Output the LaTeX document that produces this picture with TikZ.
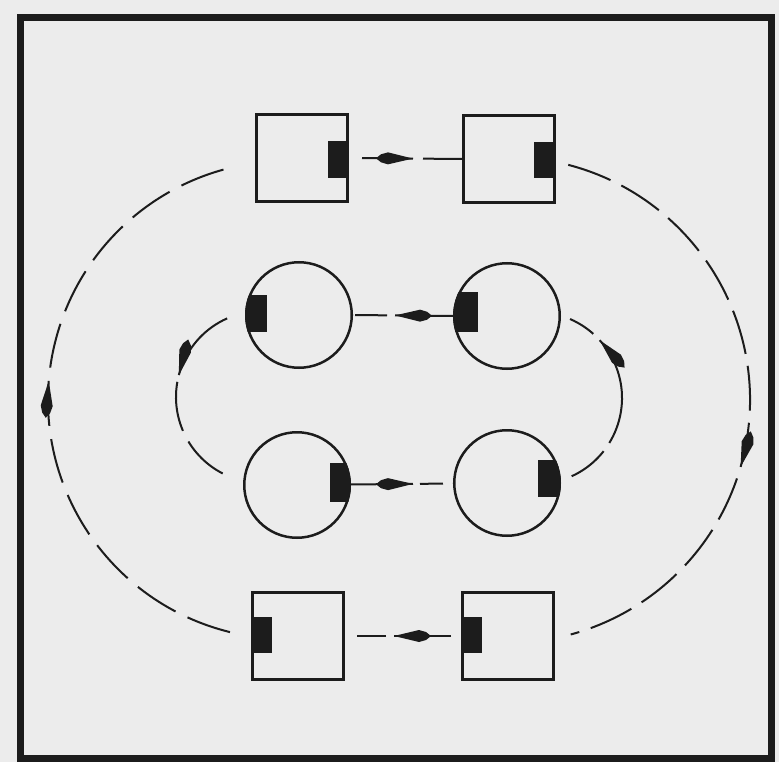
\documentclass[tikz,border=0pt]{standalone}
\usetikzlibrary{decorations.markings}
\definecolor{bg}{RGB}{236,236,236}
\definecolor{ink}{RGB}{28,28,28}
\tikzset{
  sq/.style={draw=ink, line width=3pt, minimum width=91pt, minimum height=87pt, inner sep=0pt},
  ring/.style={circle, draw=ink, line width=2.5pt, minimum size=105.5pt, inner sep=0pt},
  conn/.style={draw=ink, line width=2pt},
  tab/.style={fill=ink},
  arrowat/.style={postaction={decorate}, decoration={markings, mark=at position #1 with {\fill[ink] (0pt,0pt) -- (-25pt,6pt) -- (-32pt,4pt) -- (-37pt,0pt) -- (-32pt,-4pt) -- (-25pt,-6pt) -- cycle;}}}
}
\begin{document}
\begin{tikzpicture}[x=1pt,y=-1pt]
\useasboundingbox (0,0) rectangle (779,762);
\fill[bg] (0,0) rectangle (779,762);
\draw[ink, line width=7pt] (20,18) rectangle (771,758);

% squares
\node[sq] (TL) at (302,158) {};
\node[sq] (TR) at (509,159) {};
\node[sq] (BL) at (298,636) {};
\node[sq] (BR) at (508,636) {};
\fill[tab] (328,141) rectangle (348,178);
\fill[tab] (534,142) rectangle (555,178);
\fill[tab] (251,617) rectangle (272,653);
\fill[tab] (461,617) rectangle (482,653);

% circles
\node[ring] (C1) at (299,315) {};
\node[ring] (C2) at (507,316) {};
\node[ring] (C3) at (297,485) {};
\node[ring] (C4) at (507,483) {};
\begin{scope}\clip (C1) circle (54); \fill[tab] (240,295) rectangle (267,332);\end{scope}
\begin{scope}\clip (C2) circle (54); \fill[tab] (448,292) rectangle (478,332);\end{scope}
\begin{scope}\clip (C3) circle (54); \fill[tab] (330,463) rectangle (356,502);\end{scope}
\begin{scope}\clip (C4) circle (54); \fill[tab] (538,460) rectangle (566,497);\end{scope}

% straight connectors
\draw[conn, dash pattern=on 0pt off 13pt on 51pt off 10pt on 39pt, arrowat=64pt] (TL.east) -- (TR.west);
\draw[conn, dash pattern=on 58pt off 8pt on 32pt off 2pt, arrowat=58pt] (C2.west) -- (C1.east);
\draw[conn, dash pattern=on 62pt off 7pt on 23pt off 10pt, arrowat=62pt] (C3) -- (C4);
\draw[conn, dash pattern=on 0pt off 10pt on 57pt off 8pt on 29pt off 14pt, arrowat=67pt] (BR.west) -- (BL.east);

% arc end points
\coordinate (olA) at ([shift={(103.8:239)}]287,400);
\coordinate (orA) at ([shift={(-75.4:243)}]507,400);
\coordinate (ilA) at ([shift={(246.1:86)}]262,397);
\coordinate (irA) at ([shift={(65.5:86)}]536,398);

% outer arcs
\draw[conn, dash pattern=on 45pt off 13.4pt, arrowat=337pt] (olA) arc[start angle=103.8, end angle=257, radius=239];
\draw[conn, dash pattern=on 45pt off 12.1pt, arrowat=387.6pt] (orA) arc[start angle=-75.4, end angle=74.8, radius=243];

% inner arcs
\draw[conn, dash pattern=on 77pt off 7pt on 50pt off 12pt on 60pt, arrowat=77.2pt] (ilA) arc[start angle=246.1, end angle=117.2, radius=86];
\draw[conn, dash pattern=on 41pt off 10pt on 110.7pt off 9pt on 40pt, arrowat=161.7pt] (irA) arc[start angle=65.5, end angle=-66.7, radius=86];
\end{tikzpicture}
\end{document}
